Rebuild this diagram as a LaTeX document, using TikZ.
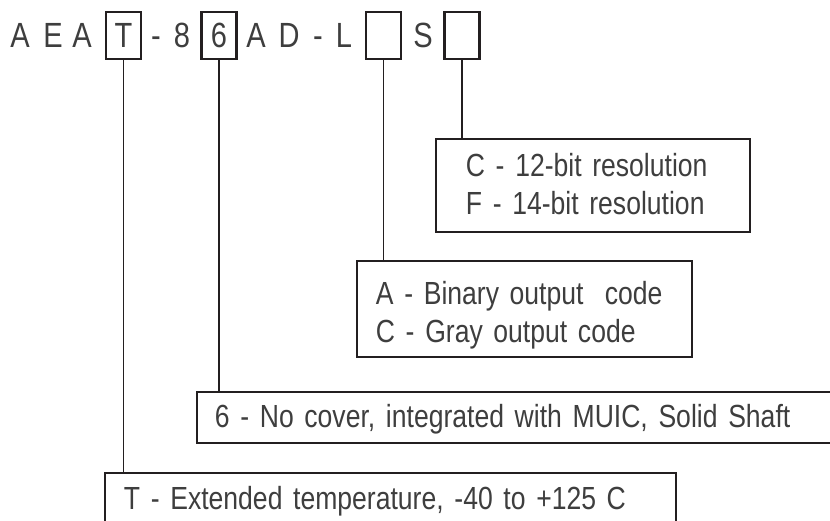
\documentclass[tikz,border=0pt]{standalone}
\usepackage{fontspec}
\setmainfont{Liberation Sans}[FakeStretch=0.83]
\definecolor{ink}{RGB}{35,31,32}
\definecolor{txt}{RGB}{62,62,62}

\begin{document}
\begin{tikzpicture}[x=1pt, y=-1pt, inner sep=0pt,
    chr/.style={anchor=base, text=txt, font=\fontsize{35}{40}\selectfont},
    slot/.style={chr, draw=ink, line width=2.6pt, minimum width=35pt, text height=36pt, text depth=11pt},
    desc/.style={draw=ink, line width=1.8pt, anchor=north west, align=left, text=txt, font=\fontsize{32}{38}\selectfont},
    conn/.style={draw=ink, line width=1.8pt}]
  \useasboundingbox (0,0) rectangle (830,521);
  % part number
  \node[chr] (c1) at (20,48) {A};
  \node[chr] (c2) at (53,48) {E};
  \node[chr] (c3) at (82,48) {A};
  \node[slot] (bT) at (123.5,48) {T};
  \node[chr] (c4) at (156,48) {-};
  \node[chr] (c5) at (182,48) {8};
  \node[slot] (b6) at (219,48) {6};
  \node[chr] (c6) at (256,48) {A};
  \node[chr] (c7) at (289,48) {D};
  \node[chr] (c8) at (318,48) {-};
  \node[chr] (c9) at (344,48) {L};
  \node[slot] (bL) at (383.5,48) {};
  \node[chr] (c10) at (423,48) {S};
  \node[slot] (bS) at (462,48) {};
  % option boxes
  \node[desc, inner xsep=30pt, text width=254pt, text height=38pt, text depth=55pt] (dS) at (435,138)
    {C - 12-bit resolution\\F - 14-bit resolution};
  \node[desc, inner xsep=19pt, text width=297pt, text height=44pt, text depth=52pt] (dL) at (356,260)
    {A - Binary output\ \ code\\C - Gray output code};
  \node[desc, inner xsep=18pt, text width=618pt, text height=36pt, text depth=15pt] (d6) at (196,391)
    {6 - No cover, integrated with MUIC, Solid Shaft};
  \node[desc, inner xsep=19pt, text width=533pt, text height=37pt, text depth=31pt] (dT) at (104,472)
    {T - Extended temperature, -40 to +125 C};
  \draw[conn] (bS.south) -- (bS.south |- dS.north);
  \draw[conn] (bL.south) -- (bL.south |- dL.north);
  \draw[conn] (b6.south) -- (b6.south |- d6.north);
  \draw[conn] (bT.south) -- (bT.south |- dT.north);
\end{tikzpicture}
\end{document}
